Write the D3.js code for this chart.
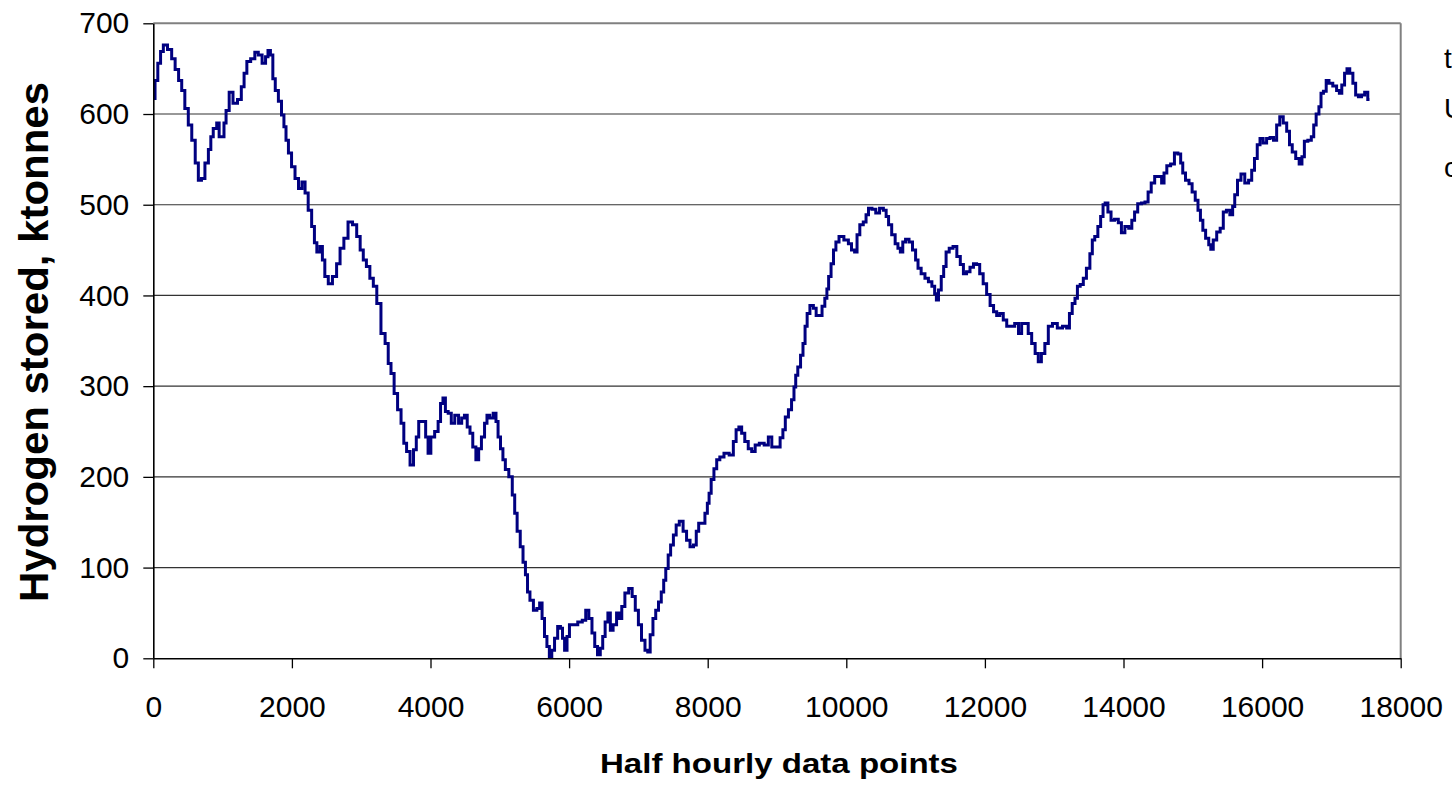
<!DOCTYPE html>
<html>
<head>
<meta charset="utf-8">
<script src="https://cdn.jsdelivr.net/npm/d3@7"></script>
<style>
  html, body { margin: 0; padding: 0; background: #fff; }
  svg { display: block; }
  text { font-family: "Liberation Sans", Arial, sans-serif; fill: #000; }
</style>
</head>
<body>
<svg id="chart" width="1452" height="788"></svg>
<script>
// ---- data ----
const halfHourIndex = [10,40,90,120,170,240,290,340,390,430,480,530,580,630,670,720,770,820,840,890,940,960,1010,1030,1070,1120,1180,1250,1290,1330,1370,1440,1490,1540,1600,1640,1670,1710,1740,1780,1830,1870,1900,1930,1970,2020,2070,2120,2170,2210,2260,2310,2340,2380,2430,2450,2500,2550,2620,2670,2720,2780,2840,2910,2960,3010,3050,3100,3150,3200,3250,
3320,3370,3410,3450,3500,3550,3600,3630,3680,3730,3780,3810,3850,3910,3950,3980,4030,4090,4130,4160,4200,4230,4280,4320,4380,4430,4470,4510,4550,4590,4630,4680,4710,4760,4800,4830,4880,4930,4960,4990,5030,5060,5100,5160,5200,5230,5270,5320,5350,5390,5410,5460,5510,5560,5590,5630,5660,5700,5730,5770,5810,5860,5890,5920,5950,5990,6020,6090,6160,6220,6260,6310,6350,6390,6430,6470,6500,6540,6580,6610,6660,6710,6740,6780,6830,6890,6930,6980,7020,7070,7120,7150,7190,7230,7270,7310,7350,7380,7410,7450,7480,7530,7560,7620,7670,7720,7770,7820,7850,7890,7940,7980,8010,8030,8070,8110,8150,8200,8270,8350,8390,8430,8470,8510,8560,8610,8660,8710,8780,8850,8900,8950,9020,9070,9100,9140,9190,9230,9260,9280,9320,9360,9390,9420,9450,9500,9550,9580,9630,9670,9710,9730,9760,9800,9830,9870,9920,10010,10050,10100,10140,10170,10220,10270,10300,10340,10400,10450,10510,10560,10590,10630,10680,10730,10760,10800,10830,10880,10930,10980,11020,11050,11110,11160,11210,11260,11290,11310,11350,11390,11420,11460,11510,11570,11620,11670,11710,11760,11810,11860,11900,11950,12000,12050,12100,12150,12190,12240,12290,12340,12400,12460,12510,12550,12600,12650,12700,12750,12790,12840,12890,12940,13010,13080,13160,13200,13240,13280,13320,13350,13400,13440,13490,13540,13560,13610,13650,13690,13720,13750,13800,13840,13900,13950,13990,14050,14100,14140,14180,14230,14290,14330,14380,14420,14480,14530,14570,14600,14650,14710,14760,14810,14840,14870,14920,14970,15010,15060,15090,15130,15160,15210,15250,15270,15320,15370,15420,15460,15510,15560,15590,15620,15670,15720,15780,15830,15870,15910,15950,15990,16040,16090,16140,16190,16230,16280,16330,16380,16410,16460,16510,16560,16590,16630,16690,16730,16760,16800,16840,16860,16910,16940,16990,17050,17100,17130,17170,17210,17240,17290,17330,17370,17410,17460,17500,17550];
const hydrogenStored = [617,637,656,669,676,671,661,649,637,626,606,588,571,546,527,529,546,561,575,584,590,575,575,590,604,624,612,616,630,645,658,661,668,665,656,663,670,665,639,626,614,599,586,571,557,542,529,518,525,513,494,476,458,448,454,439,421,413,421,435,452,463,481,478,465,450,439,432,419,410,391,
358,347,325,314,292,274,259,237,228,213,230,244,261,261,244,226,244,250,261,281,287,272,270,259,268,259,265,268,255,248,233,219,231,244,259,268,265,270,261,244,231,219,208,200,180,160,140,123,106,92,73,64,53,55,61,44,24,13,2,9,22,35,33,22,9,24,37,37,40,42,53,44,28,13,4,11,24,40,50,31,37,50,44,57,72,77,68,53,37,20,9,7,26,44,53,62,73,86,99,114,125,136,147,151,140,130,123,125,140,149,149,160,171,182,197,209,219,222,226,224,239,252,255,248,239,231,228,235,237,235,244,233,233,243,252,266,274,285,299,312,321,334,347,366,380,389,386,378,378,388,397,407,421,435,450,459,465,461,457,450,448,467,478,481,489,496,495,491,496,494,487,478,467,457,452,448,459,462,459,450,439,430,424,419,415,410,402,395,406,421,432,448,452,454,443,434,424,426,431,435,434,424,413,401,389,382,378,380,373,366,366,369,358,369,369,358,347,336,327,336,347,366,369,364,366,364,380,391,397,410,412,419,430,446,461,465,476,487,500,502,492,483,484,480,469,476,474,483,492,501,502,503,514,524,531,531,524,535,543,545,557,556,546,535,527,523,514,505,494,483,472,463,456,451,461,470,474,492,494,489,498,511,527,534,524,527,538,551,566,573,568,573,574,571,588,597,590,581,566,558,551,545,553,570,571,575,588,600,608,623,625,637,634,631,626,623,632,645,650,645,634,621,619,621,624,616];

const xTicks = [0,2000,4000,6000,8000,10000,12000,14000,16000,18000];
const yTicks = [0,100,200,300,400,500,600,700];
const xTitle = "Half hourly data points";
const yTitle = "Hydrogen stored, ktonnes";
const cutLegend = ["t", "U", "c"];

(function () {
  // ---- layout ----
  const pLeft = 153.3, pRight = 1400.7, pTop = 23.3, pBottom = 658.3;
  const svg = d3.select("#chart");

  const x = d3.scaleLinear().domain([0, 18000]).range([pLeft, pRight]);
  const y = d3.scaleLinear().domain([0, 700]).range([pBottom, pTop]);

  // gridlines
  svg.append("g")
    .selectAll("line")
    .data(yTicks.filter(v => v > 0 && v < 700))
    .join("line")
    .attr("x1", pLeft).attr("x2", pRight)
    .attr("y1", d => y(d)).attr("y2", d => y(d))
    .attr("stroke", "#333").attr("stroke-width", 1.2);

  // plot border (top & right visible)
  svg.append("line").attr("x1", pLeft).attr("x2", pRight).attr("y1", pTop).attr("y2", pTop)
    .attr("stroke", "#808080").attr("stroke-width", 2);
  svg.append("line").attr("x1", pRight).attr("x2", pRight).attr("y1", pTop).attr("y2", pBottom)
    .attr("stroke", "#808080").attr("stroke-width", 2);

  // data line
  const n = Math.min(halfHourIndex.length, hydrogenStored.length);
  const pts = d3.range(n).map(i => [halfHourIndex[i], hydrogenStored[i]]);
  const line = d3.line().x(d => x(d[0])).y(d => y(d[1])).curve(d3.curveStep);
  svg.append("path")
    .datum(pts)
    .attr("d", line)
    .attr("fill", "none")
    .attr("stroke", "#000080")
    .attr("stroke-width", 3)
    .attr("stroke-linejoin", "miter");

  // axes
  const xAxis = d3.axisBottom(x).tickValues(xTicks).tickFormat(d3.format("d"))
    .tickSizeInner(10).tickSizeOuter(0).tickPadding(27);
  const gx = svg.append("g").attr("transform", `translate(0,${pBottom})`).call(xAxis);
  gx.select(".domain").attr("stroke", "#000").attr("stroke-width", 1.6);
  gx.selectAll(".tick line").attr("stroke", "#000").attr("stroke-width", 1.3);
  gx.selectAll(".tick text").attr("font-size", 30)
    .attr("font-family", '"Liberation Sans", Arial, sans-serif').attr("fill", "#000");

  const yAxis = d3.axisLeft(y).tickValues(yTicks).tickFormat(d3.format("d"))
    .tickSizeInner(10).tickSizeOuter(0).tickPadding(14);
  const gy = svg.append("g").attr("transform", `translate(${pLeft},0)`).call(yAxis);
  gy.select(".domain").attr("stroke", "#000").attr("stroke-width", 1.6);
  gy.selectAll(".tick line").attr("stroke", "#000").attr("stroke-width", 1.3);
  gy.selectAll(".tick text").attr("font-size", 30)
    .attr("font-family", '"Liberation Sans", Arial, sans-serif').attr("fill", "#000");

  // axis titles
  svg.append("text")
    .attr("x", (pLeft + pRight) / 2 + 2).attr("y", 773)
    .attr("text-anchor", "middle")
    .attr("font-size", 28).attr("font-weight", "bold")
    .attr("textLength", 358).attr("lengthAdjust", "spacingAndGlyphs")
    .text(xTitle);

  svg.append("text")
    .attr("transform", `translate(48,342) rotate(-90)`)
    .attr("text-anchor", "middle")
    .attr("font-size", 40).attr("font-weight", "bold")
    .attr("textLength", 520).attr("lengthAdjust", "spacingAndGlyphs")
    .text(yTitle);

  // legend text, cut off at the right edge as in the reference
  svg.append("g").selectAll("text")
    .data(cutLegend)
    .join("text")
    .attr("x", 1444)
    .attr("y", (d, i) => [68, 118, 177][i])
    .attr("font-size", 28)
    .text(d => d);
})();
</script>
</body>
</html>
